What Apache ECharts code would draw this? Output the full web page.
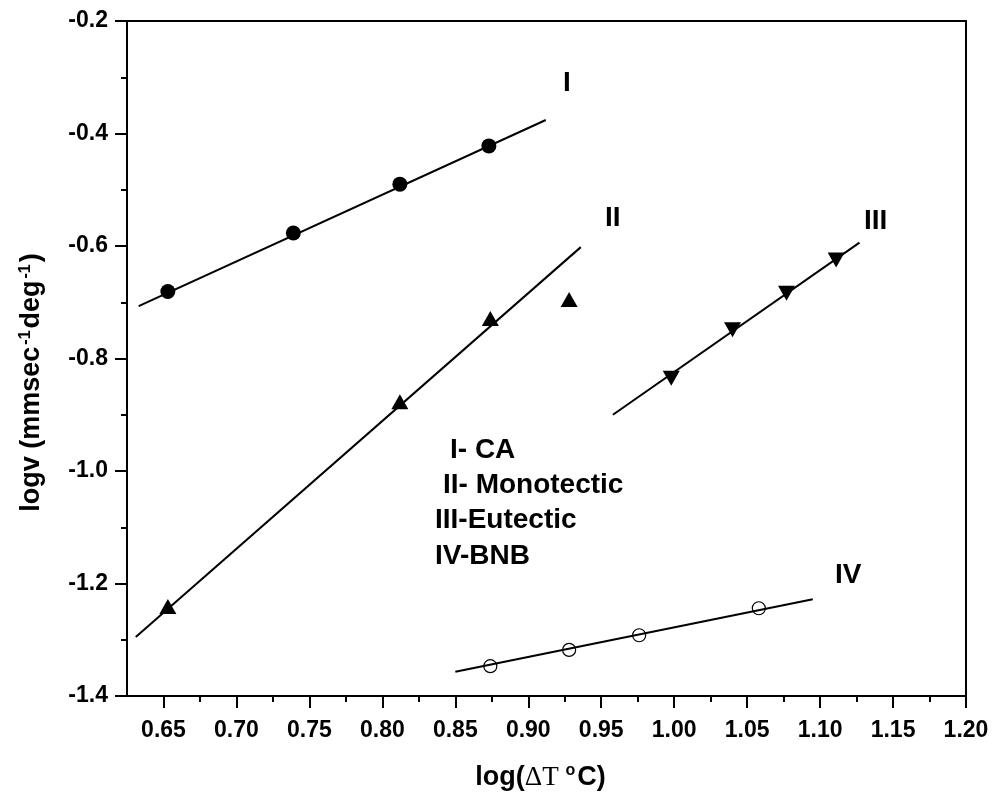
<!DOCTYPE html>
<html>
<head>
<meta charset="utf-8">
<script src="https://cdn.jsdelivr.net/npm/echarts@6/dist/echarts.min.js"></script>
<style>
  html, body { margin: 0; padding: 0; background: #fff; }
  #chart { width: 992px; height: 804px; }
</style>
</head>
<body>
<div id="chart"></div>
<script>
// tick values
const xMajor = [0.65, 0.70, 0.75, 0.80, 0.85, 0.90, 0.95, 1.00, 1.05, 1.10, 1.15, 1.20];
const xMinor = [0.675, 0.725, 0.775, 0.825, 0.875, 0.925, 0.975, 1.025, 1.075, 1.125, 1.175];

// I - CA
const caX = [0.653, 0.739, 0.812, 0.873];
const caY = [-0.681, -0.577, -0.490, -0.422];
const caFitX = [0.633, 0.912];
const caFitY = [-0.707, -0.376];
// II - Monotectic
const monoX = [0.653, 0.812, 0.874, 0.928];
const monoY = [-1.241, -0.877, -0.729, -0.695];
const monoFitX = [0.631, 0.936];
const monoFitY = [-1.295, -0.602];
// III - Eutectic
const eutX = [0.998, 1.040, 1.077, 1.111];
const eutY = [-0.835, -0.749, -0.684, -0.625];
const eutFitX = [0.958, 1.127];
const eutFitY = [-0.900, -0.594];
// IV - BNB
const bnbX = [0.874, 0.928, 0.976, 1.058];
const bnbY = [-1.347, -1.318, -1.292, -1.244];
const bnbFitX = [0.850, 1.095];
const bnbFitY = [-1.357, -1.228];

const zip = (xs, ys) => xs.map((x, i) => [x, ys[i]]);
const FONT = '"Liberation Sans", Arial, sans-serif';
const black = '#000';

function fitLine(xs, ys) {
    return {
        type: 'line', xAxisIndex: 0, yAxisIndex: 0, data: zip(xs, ys),
        showSymbol: false, silent: true, z: 2,
        lineStyle: { color: black, width: 2 }
    };
}
function points(xs, ys, symbol, size, style, rotate) {
    return {
        type: 'scatter', xAxisIndex: 0, yAxisIndex: 0, data: zip(xs, ys),
        symbol: symbol, symbolSize: size, symbolRotate: rotate || 0, z: 3,
        itemStyle: Object.assign({ opacity: 1 }, style)
    };
}

const myChart = echarts.init(document.getElementById('chart'));
const gridBox = { left: 127, top: 21, right: 26, bottom: 108 };

myChart.setOption({
    animation: false,
    backgroundColor: '#fff',
    grid: [
        Object.assign({ show: true, borderColor: black, borderWidth: 2, backgroundColor: 'transparent' }, gridBox),
        Object.assign({}, gridBox)
    ],
    xAxis: [{
        type: 'value', gridIndex: 0, min: 0.625, max: 1.2,
        splitLine: { show: false },
        axisLine: { lineStyle: { color: black, width: 2 } },
        axisTick: { customValues: xMajor, length: 12, lineStyle: { color: black, width: 2 } },
        axisLabel: {
            customValues: xMajor, margin: 23, color: black,
            fontFamily: FONT, fontWeight: 'bold', fontSize: 23,
            formatter: v => v.toFixed(2)
        },
        name: '{b|log(}{s|ΔT }{sup|o}{b|C)}',
        nameLocation: 'middle', nameGap: 67,
        nameTextStyle: {
            padding: [0, 12, 0, 0],
            rich: {
                b: { fontFamily: FONT, fontWeight: 'bold', fontSize: 27, color: black },
                s: { fontFamily: '"Liberation Serif", "Times New Roman", serif', fontSize: 27, color: black },
                sup: { fontFamily: FONT, fontWeight: 'bold', fontSize: 16, color: black, verticalAlign: 'top', padding: [0, 2, 14, 0] }
            }
        }
    }, {
        type: 'value', gridIndex: 1, min: 0.625, max: 1.2,
        splitLine: { show: false },
        axisLine: { show: false },
        axisTick: { customValues: xMinor, length: 6, lineStyle: { color: black, width: 2 } },
        axisLabel: { show: false }
    }],
    yAxis: [{
        type: 'value', gridIndex: 0, min: -1.4, max: -0.2, interval: 0.2,
        splitLine: { show: false },
        axisLine: { lineStyle: { color: black, width: 2 } },
        axisTick: { length: 12, lineStyle: { color: black, width: 2 } },
        minorTick: { show: true, splitNumber: 2, length: 6, lineStyle: { color: black, width: 2 } },
        minorSplitLine: { show: false },
        axisLabel: {
            margin: 19, color: black,
            fontFamily: FONT, fontWeight: 'bold', fontSize: 23,
            formatter: v => v.toFixed(1)
        },
        name: '{b|logv (mmsec}{sup|-1}{b|deg}{sup|-1}{b|)}',
        nameLocation: 'middle', nameGap: 82, nameRotate: 90,
        nameTextStyle: {
            padding: [0, 48, 0, 0],
            rich: {
                b: { fontFamily: FONT, fontWeight: 'bold', fontSize: 27, color: black },
                sup: { fontFamily: FONT, fontWeight: 'bold', fontSize: 16, color: black, verticalAlign: 'top', padding: [0, 2, 11, 2] }
            }
        }
    }, {
        type: 'value', gridIndex: 1, min: -1.4, max: -0.2, show: false
    }],
    series: [
        fitLine(caFitX, caFitY),
        points(caX, caY, 'circle', 15, { color: black }),
        fitLine(monoFitX, monoFitY),
        points(monoX, monoY, 'triangle', [17, 15], { color: black }),
        fitLine(eutFitX, eutFitY),
        points(eutX, eutY, 'triangle', [17, 15], { color: black }, 180),
        fitLine(bnbFitX, bnbFitY),
        points(bnbX, bnbY, 'circle', 13, { color: 'transparent', borderColor: black, borderWidth: 1.2 })
    ],
    graphic: [
        { type: 'text', left: 563, top: 69, style: { text: 'I', font: 'bold 28px ' + FONT, fill: black } },
        { type: 'text', left: 605, top: 204, style: { text: 'II', font: 'bold 28px ' + FONT, fill: black } },
        { type: 'text', left: 864, top: 207, style: { text: 'III', font: 'bold 28px ' + FONT, fill: black } },
        { type: 'text', left: 835, top: 561, style: { text: 'IV', font: 'bold 28px ' + FONT, fill: black } },
        { type: 'text', left: 450, top: 436, style: { text: 'I- CA', font: 'bold 28px ' + FONT, fill: black } },
        { type: 'text', left: 443, top: 471, style: { text: 'II- Monotectic', font: 'bold 28px ' + FONT, fill: black } },
        { type: 'text', left: 435, top: 506, style: { text: 'III-Eutectic', font: 'bold 28px ' + FONT, fill: black } },
        { type: 'text', left: 435, top: 542, style: { text: 'IV-BNB', font: 'bold 28px ' + FONT, fill: black } }
    ]
});
window.addEventListener('resize', () => myChart.resize());
</script>
</body>
</html>
